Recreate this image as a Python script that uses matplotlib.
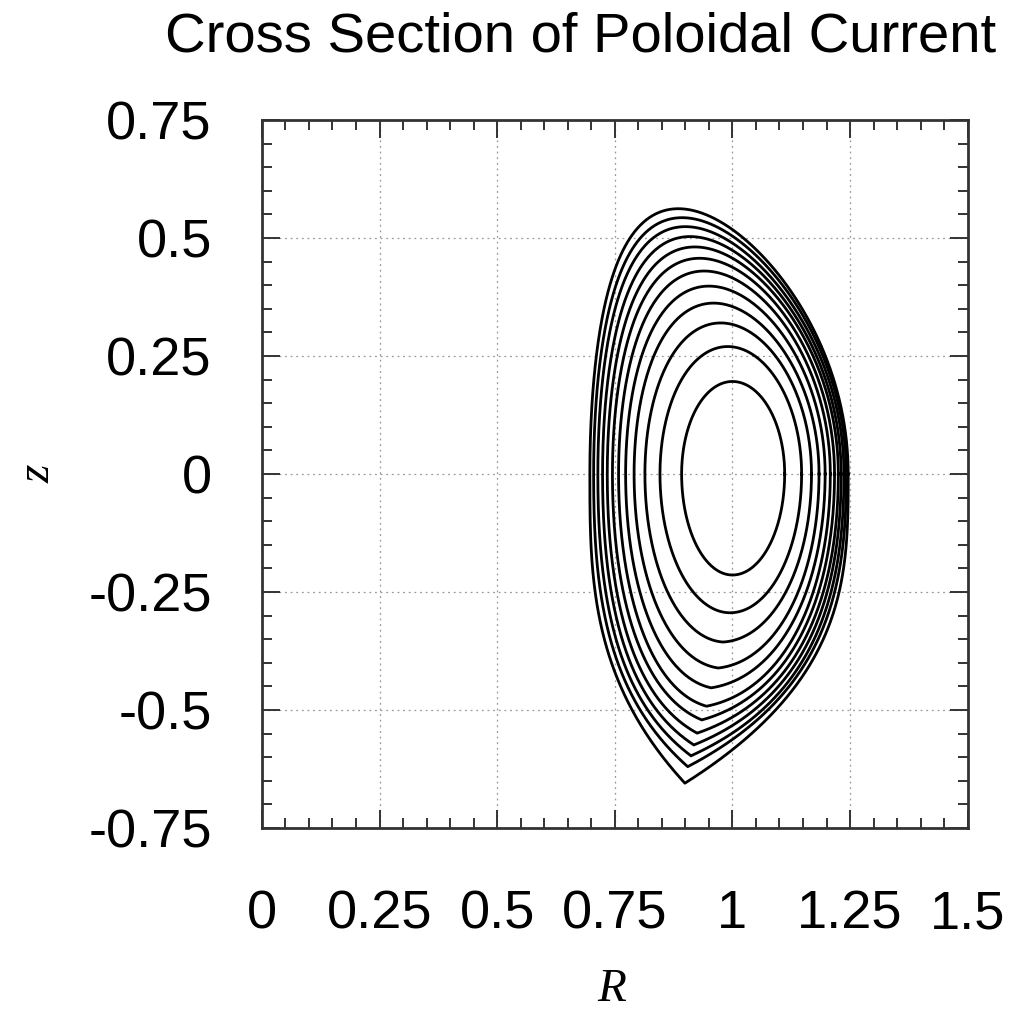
import numpy as np
import matplotlib.pyplot as plt
from matplotlib.ticker import MultipleLocator

# flux surfaces, innermost first
r_in = [0.892, 0.846, 0.814, 0.791, 0.773, 0.758, 0.745, 0.734, 0.724, 0.714, 0.705, 0.697]
r_out = [1.111, 1.147, 1.168, 1.184, 1.197, 1.208, 1.217, 1.225, 1.231, 1.237, 1.242, 1.246]
z_top = [0.196, 0.270, 0.320, 0.362, 0.398, 0.430, 0.457, 0.481, 0.503, 0.524, 0.543, 0.562]
r_top = [1.000, 0.990, 0.975, 0.960, 0.950, 0.940, 0.930, 0.920, 0.910, 0.900, 0.893, 0.885]
z_bot = [-0.214, -0.294, -0.356, -0.411, -0.453, -0.492, -0.521, -0.549, -0.574, -0.597, -0.620, -0.655]
r_bot = [1.000, 0.995, 0.980, 0.970, 0.955, 0.945, 0.935, 0.925, 0.918, 0.912, 0.905, 0.899]
tip = [0.0, 0.0, 0.05, 0.1, 0.15, 0.2, 0.3, 0.4, 0.5, 0.6, 0.75, 1.0]

x_ticks = [0, 0.25, 0.5, 0.75, 1, 1.25, 1.5]
x_labels = ['0', '0.25', '0.5', '0.75', '1', '1.25', '1.5']
y_ticks = [0.75, 0.5, 0.25, 0, -0.25, -0.5, -0.75]
y_labels = ['0.75', '0.5', '0.25', '0', '-0.25', '-0.5', '-0.75']


def surface(ri, ro, zt, rt, zb, rb, w):
    rc = (ri + ro) / 2
    a = (ro - ri) / 2
    d = np.arcsin(np.clip((rc - rt) / a, -0.95, 0.95))
    th = np.linspace(0, np.pi, 300)
    r_up = rc + a * np.cos(th + d * np.sin(th))
    z_up = zt * np.sin(th)
    u = np.linspace(0, 1, 200)
    h = (1 - w) * np.cos(np.pi * u / 2) + w * (1 - u ** 3)
    g = (1 - w) * np.sin(np.pi * u / 2) + w * u
    r_l = rb + (ri - rb) * h
    r_r = rb + (ro - rb) * h
    r = np.concatenate([r_up, r_l, r_r[::-1]])
    z = np.concatenate([z_up, zb * g, (zb * g)[::-1]])
    return r, z


plt.rcParams['font.family'] = ['Liberation Sans', 'DejaVu Sans']

fig = plt.figure(figsize=(10.35, 10.14), dpi=100)
ax = fig.add_axes([0.253, 0.1834, 0.682, 0.6983])

for i in range(len(r_in)):
    r, z = surface(r_in[i], r_out[i], z_top[i], r_top[i], z_bot[i], r_bot[i], tip[i])
    ax.plot(r, z, color='black', lw=2.0)

ax.set_xlim(0, 1.5)
ax.set_ylim(-0.75, 0.75)
ax.set_xticks(x_ticks)
ax.set_xticklabels(x_labels)
ax.set_yticks(y_ticks)
ax.set_yticklabels(y_labels)
ax.xaxis.set_minor_locator(MultipleLocator(0.05))
ax.yaxis.set_minor_locator(MultipleLocator(0.05))
ax.tick_params(which='both', direction='in', top=True, right=True, color='#333333', width=1.4)
ax.tick_params(which='major', length=13, labelsize=39)
ax.tick_params(axis='x', which='major', pad=44)
ax.tick_params(axis='y', which='major', pad=36)
ax.tick_params(which='minor', length=7)
ax.grid(True, which='major', linestyle=(0, (1.5, 3)), color='#999999', lw=0.9)
for s in ax.spines.values():
    s.set_linewidth(2)
    s.set_color('#333333')

ax.set_xlabel('R', fontsize=34, family='Liberation Serif', style='italic', va='center')
ax.xaxis.set_label_coords(0.496, -0.228)
ax.set_ylabel('z', fontsize=34, family='Liberation Serif', style='italic', va='center')
ax.yaxis.set_label_coords(-0.317, 0.5)

fig.text(0.561, 1 - 38 / 1014, 'Cross Section of Poloidal Current', fontsize=40.5, ha='center', va='center')

fig.savefig('out.png', dpi=100)
